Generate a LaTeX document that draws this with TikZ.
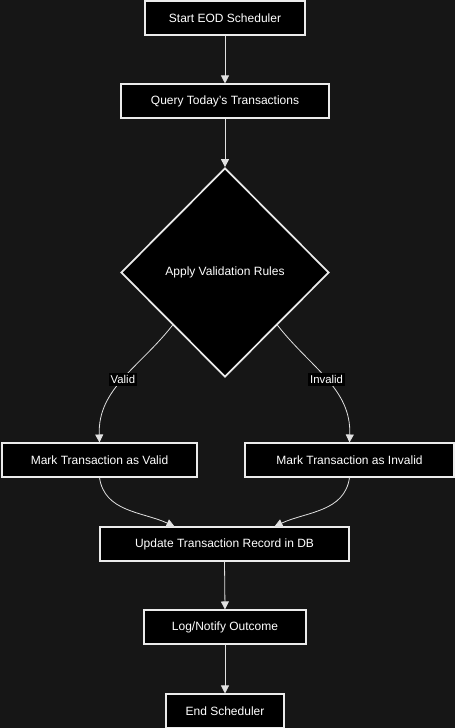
\documentclass[tikz,border=0pt]{standalone}
\usepackage{fontspec}
\setmainfont{Liberation Sans}
\usetikzlibrary{shapes,arrows.meta,positioning}
\definecolor{bgdark}{RGB}{22,22,22}
\definecolor{edgegray}{RGB}{225,225,225}
\definecolor{boxline}{RGB}{235,235,235}
\tikzstyle{stepbox}=[rectangle, draw=boxline, fill=black, text=white, line width=1.3pt, minimum height=25pt, inner sep=0pt, font=\fontsize{9}{11}\selectfont]
\tikzstyle{decision}=[diamond, draw=boxline, fill=black, text=white, line width=1.3pt, aspect=1, minimum width=156pt, minimum height=156.75pt, inner sep=0pt, font=\fontsize{9}{11}\selectfont]
\tikzstyle{flow}=[-{Triangle[width=6pt,length=6pt]}, draw=edgegray, line width=0.6pt]
\tikzstyle{branch}=[fill=black, text=white, inner sep=1.5pt, font=\fontsize{8.5}{10}\selectfont]

\begin{document}
\begin{tikzpicture}[x=0.75pt,y=-0.75pt]

\fill[bgdark] (0,0) rectangle (455,728);
\useasboundingbox (0,0) rectangle (455,728);

\node[stepbox, minimum width=120pt] (start) at (225,18) {Start EOD Scheduler};
\node[stepbox, minimum width=156pt] (query) at (225,101) {Query Today's Transactions};
\node[decision] (rules) at (225,272.5) {Apply Validation Rules};
\node[stepbox, minimum width=146pt] (valid) at (99.5,460) {Mark Transaction as Valid};
\node[stepbox, minimum width=157pt] (invalid) at (349.5,460) {Mark Transaction as Invalid};
\node[stepbox, minimum width=187pt] (update) at (224.5,544) {Update Transaction Record in DB};
\node[stepbox, minimum width=121.5pt] (notify) at (225,627) {Log/Notify Outcome};
\node[stepbox, minimum width=88.5pt] (finish) at (225,711) {End Scheduler};

\draw[flow] (start.south) -- (query.north);
\draw[flow] (query.south) -- (rules.north);
\draw[flow] (rules.south west) to[out=-128,in=92] node[branch, pos=0.5] {Valid} (valid.north);
\draw[flow] (rules.south east) to[out=-52,in=88] node[branch, pos=0.5] {Invalid} (invalid.north);
\draw[flow] (valid.south) to[out=-82,in=155] ([xshift=-37.5pt]update.north);
\draw[flow] (invalid.south) to[out=-98,in=25] ([xshift=37.5pt]update.north);
\draw[flow] (update.south) -- (notify.north);
\draw[flow] (notify.south) -- (finish.north);

\end{tikzpicture}
\end{document}
